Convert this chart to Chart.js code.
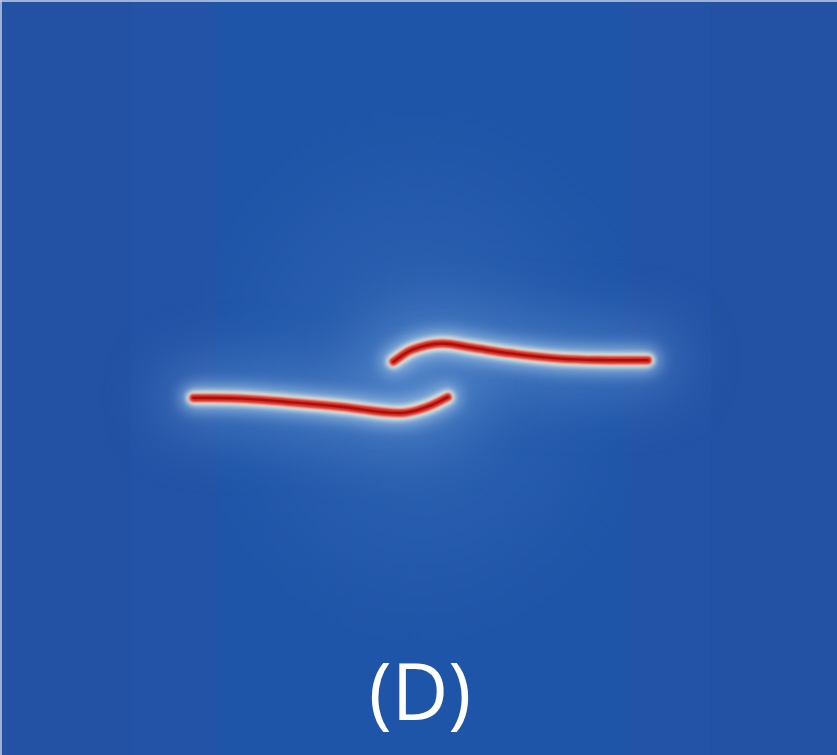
<!DOCTYPE html>
<html>
<head>
<meta charset="utf-8">
<script src="https://cdn.jsdelivr.net/npm/chart.js@4/dist/chart.umd.min.js"></script>
<style>
  html, body { margin: 0; padding: 0; background: #2252a4; overflow: hidden; }
  #wrap { position: relative; width: 837px; height: 755px; }
  #label {
    position: absolute; left: 0; top: 651px; width: 840px;
    text-align: center; color: #ffffff;
    font-family: "Open Sans", sans-serif; font-size: 78px; line-height: 1;
  }
</style>
</head>
<body>
<div id="wrap">
  <canvas id="crackChart" width="837" height="755"></canvas>
  <div id="label">(D)</div>
</div>
<script>
// crack paths, domain units (x to the right, y upwards)
var lowerCrackX = [0.231, 0.290, 0.350, 0.410, 0.478, 0.510, 0.535];
var lowerCrackY = [0.473, 0.472, 0.467, 0.461, 0.453, 0.461, 0.474];
var upperCrackX = [0.470, 0.493, 0.527, 0.561, 0.609, 0.669, 0.729, 0.774];
var upperCrackY = [0.521, 0.537, 0.545, 0.540, 0.532, 0.525, 0.523, 0.523];

function toPoints(xs, ys) {
  return xs.map((x, i) => ({ x: x, y: ys[i] }));
}
var lowerCrack = toPoints(lowerCrackX, lowerCrackY);
var upperCrack = toPoints(upperCrackX, upperCrackY);

// layers: wide field glow, cream halo, red band, dark core
var layers = [
  { color: "rgba(120,170,225,0.35)", width: 70, blur: 28, order: 5 },
  { color: "rgba(175,208,236,0.8)", width: 24, blur: 8, order: 4 },
  { color: "#f3efd9", width: 14, blur: 2.5, order: 3 },
  { color: "#d8281d", width: 8, blur: 1, order: 2 },
  { color: "#a80f10", width: 2.4, blur: 0.6, order: 1 },
];

var datasets = [];
layers.forEach(function (l) {
  [lowerCrack, upperCrack].forEach(function (pts, k) {
    datasets.push({
      label: (k === 0 ? "lower" : "upper") + " crack",
      data: pts,
      borderColor: l.color,
      borderWidth: l.width,
      borderCapStyle: "round",
      borderJoinStyle: "round",
      tension: 0.4,
      pointRadius: 0,
      fill: false,
      order: l.order,
      blur: l.blur,
    });
  });
});

var fieldPlugin = {
  id: "field",
  beforeDraw(chart) {
    var ctx = chart.ctx;
    var w = chart.width, h = chart.height;
    var xs = chart.scales.x, ys = chart.scales.y;
    ctx.save();
    ctx.fillStyle = "#2351a3";
    ctx.fillRect(0, 0, w, h);
    ctx.fillStyle = "#2353a6";
    ctx.fillRect(xs.getPixelForValue(0.156), 0, xs.getPixelForValue(0.85) - xs.getPixelForValue(0.156), h);
    ctx.fillStyle = "#1f55a8";
    ctx.fillRect(xs.getPixelForValue(0.258), 0, xs.getPixelForValue(0.747) - xs.getPixelForValue(0.258), h);
    // soft lighter region round the cracks
    var cx = xs.getPixelForValue(0.5), cy = ys.getPixelForValue(0.5);
    ctx.translate(cx, cy);
    ctx.scale(1, 1.15);
    var g = ctx.createRadialGradient(0, 0, 0, 0, 0, 250);
    g.addColorStop(0, "rgba(90,140,205,0.35)");
    g.addColorStop(0.6, "rgba(70,120,195,0.15)");
    g.addColorStop(1, "rgba(40,90,170,0)");
    ctx.fillStyle = g;
    ctx.beginPath();
    ctx.arc(0, 0, 250, 0, Math.PI * 2);
    ctx.fill();
    ctx.restore();
    // thin frame line at top and left
    ctx.save();
    ctx.fillStyle = "rgba(190,200,225,0.8)";
    ctx.fillRect(0, 0, w, 2);
    ctx.fillRect(0, 0, 2, h);
    ctx.restore();
  },
  beforeDatasetDraw(chart, args) {
    var b = chart.data.datasets[args.index].blur || 0;
    chart.ctx.filter = b > 0 ? "blur(" + b + "px)" : "none";
  },
  afterDatasetDraw(chart) {
    chart.ctx.filter = "none";
  },
};

var ctx = document.getElementById("crackChart").getContext("2d");
var crackChart = new Chart(ctx, {
  type: "line",
  data: { datasets: datasets },
  options: {
    responsive: false,
    animation: false,
    layout: { padding: 0 },
    plugins: { legend: { display: false }, tooltip: { enabled: false } },
    scales: {
      x: { type: "linear", min: 0, max: 1, display: false },
      y: { type: "linear", min: 0, max: 1, display: false },
    },
  },
  plugins: [fieldPlugin],
});
</script>
</body>
</html>
